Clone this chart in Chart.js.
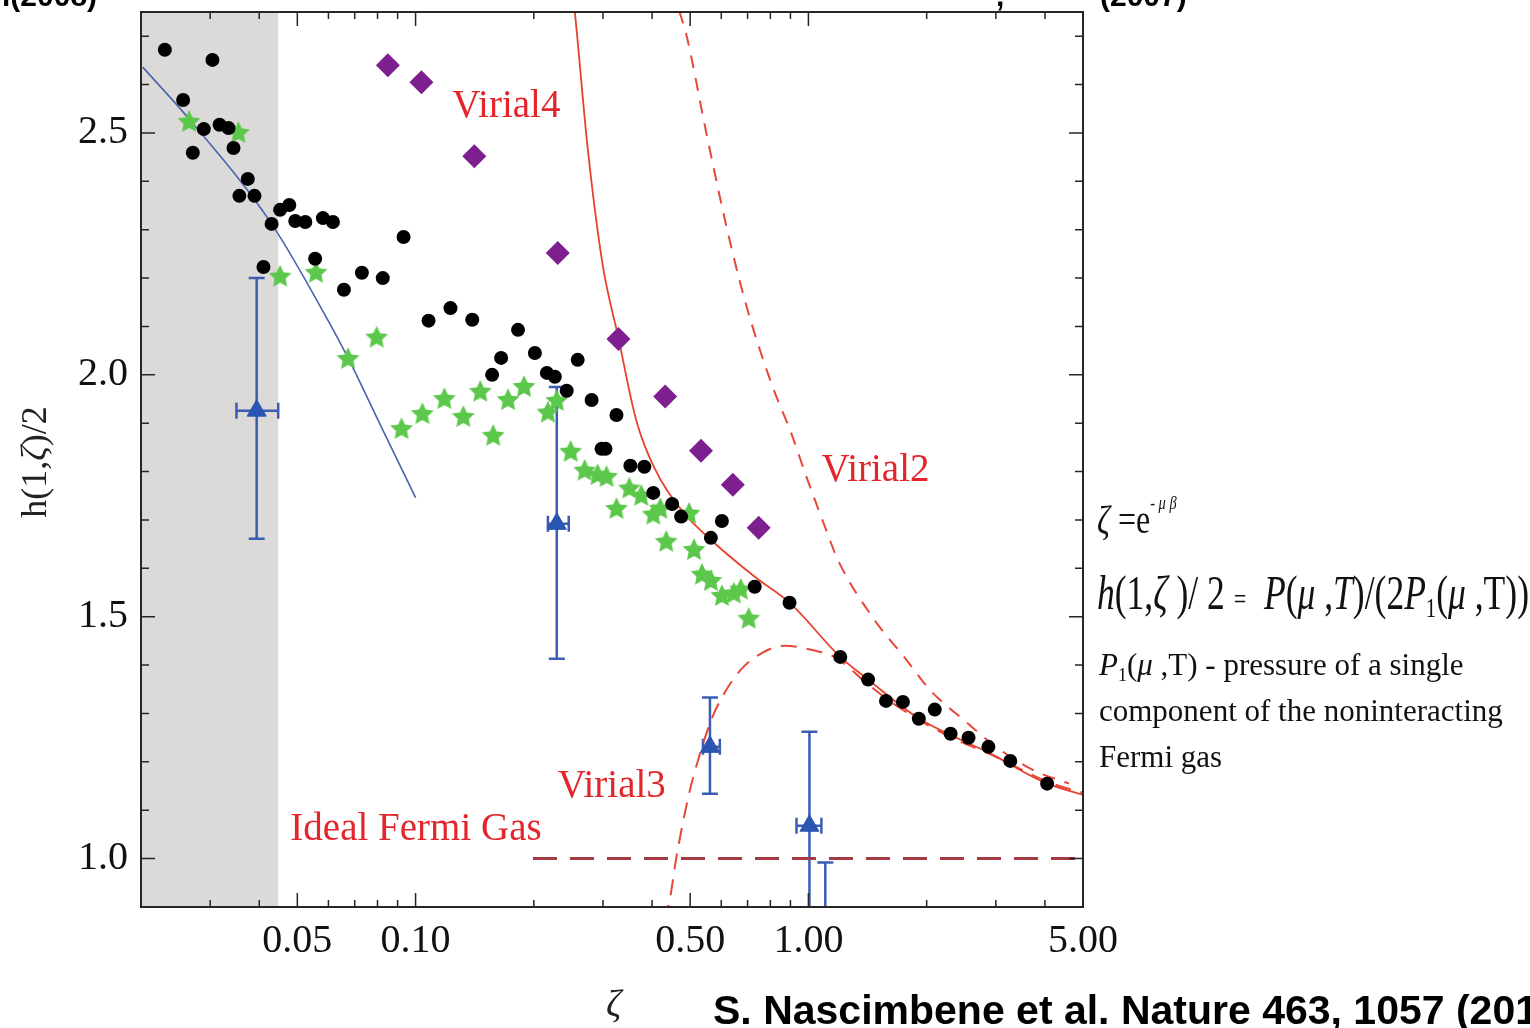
<!DOCTYPE html>
<html lang="en">
<head>
  <meta charset="UTF-8">
  <title>h(1,ζ)/2 versus ζ</title>
  <script src="https://cdn.jsdelivr.net/npm/chart.js"></script>
  <style>
    html, body { margin: 0; padding: 0; background: #fff; }
    #wrap { width: 1530px; height: 1028px; }
  </style>
</head>
<body>
  <div id="wrap"><canvas id="chart" width="1530" height="1028"></canvas></div>
  <script>
    // experimental points (black dots)
    const dotX = [0.0230, 0.0304, 0.0256, 0.0289, 0.0271, 0.0317, 0.0334, 0.0344, 0.0374, 0.0356, 0.0389, 0.0430, 0.0452, 0.0477, 0.0494, 0.0524, 0.0581, 0.0616, 0.0932, 0.0410, 0.0555, 0.0730, 0.0825, 0.0657, 0.1227, 0.1079, 0.1394, 0.1823, 0.1651, 0.1566, 0.2012, 0.2159, 0.2262, 0.2425, 0.2586, 0.2806, 0.3246, 0.2974, 0.3044, 0.3522, 0.3822, 0.4028, 0.4499, 0.4741, 0.6022, 0.5646, 0.7298, 0.8952, 1.205, 1.419, 1.576, 1.740, 1.910, 2.097, 2.301, 2.556, 2.872, 3.265, 4.052];
    const dotY = [2.672, 2.651, 2.568, 2.508, 2.459, 2.517, 2.510, 2.469, 2.405, 2.370, 2.370, 2.312, 2.341, 2.351, 2.318, 2.316, 2.324, 2.316, 2.285, 2.223, 2.240, 2.211, 2.200, 2.176, 2.138, 2.112, 2.114, 2.093, 2.035, 2.000, 2.045, 2.004, 1.996, 1.967, 2.031, 1.948, 1.917, 1.847, 1.847, 1.812, 1.810, 1.756, 1.733, 1.707, 1.698, 1.663, 1.562, 1.529, 1.417, 1.370, 1.326, 1.324, 1.289, 1.308, 1.258, 1.250, 1.231, 1.202, 1.155];

    // green stars
    const starX = [0.0265, 0.0354, 0.0452, 0.0558, 0.0673, 0.0796, 0.0921, 0.1041, 0.1184, 0.1323, 0.1461, 0.1576, 0.1720, 0.1888, 0.2172, 0.2288, 0.2482, 0.2694, 0.2906, 0.3062, 0.3246, 0.3501, 0.3755, 0.4028, 0.4196, 0.4968, 0.4345, 0.5114, 0.5358, 0.5646, 0.6022, 0.6457, 0.6726, 0.7048];
    const starY = [2.525, 2.502, 2.205, 2.213, 2.035, 2.079, 1.890, 1.921, 1.952, 1.915, 1.967, 1.876, 1.950, 1.977, 1.924, 1.948, 1.843, 1.804, 1.795, 1.791, 1.725, 1.767, 1.752, 1.713, 1.725, 1.715, 1.657, 1.640, 1.589, 1.576, 1.545, 1.550, 1.558, 1.498];

    // purple diamonds
    const diamondX = [0.0850, 0.1035, 0.1411, 0.2301, 0.3284, 0.4319, 0.5328, 0.6421, 0.7471];
    const diamondY = [2.640, 2.605, 2.452, 2.252, 2.074, 1.955, 1.843, 1.773, 1.684];

    // blue triangles with error bars
    const triX = [0.0394, 0.2288, 0.5615, 1.006, 1.104];
    const triY = [1.926, 1.692, 1.231, 1.068, 0.80];
    const triYLow = [1.661, 1.413, 1.134, 0.86, 0.62];
    const triYHigh = [2.200, 1.975, 1.333, 1.262, 0.992];
    const triXLow = [0.0350, 0.2172, 0.539, 0.9325, 1.104];
    const triXHigh = [0.0447, 0.2454, 0.595, 1.079, 1.104];

    // curves
    const fitX = [0.0202, 0.0265, 0.0430, 0.0599, 0.0673, 0.0815, 0.100];
    const fitY = [2.636, 2.529, 2.312, 2.112, 2.035, 1.895, 1.746];
    const redX = [0.2542, 0.2571, 0.2742, 0.2992, 0.3284, 0.3648, 0.4051, 0.4770, 0.5680, 0.7342, 0.8952, 1.205, 1.419, 1.899, 2.906, 4.052, 5.0];
    const redY = [2.752, 2.711, 2.469, 2.229, 2.076, 1.905, 1.808, 1.719, 1.657, 1.581, 1.529, 1.417, 1.370, 1.291, 1.217, 1.155, 1.132];
    const virial2X = [0.4688, 0.4883, 0.5485, 0.6164, 0.6928, 0.8060, 0.9056, 0.9827, 1.104, 1.191, 1.477, 1.760, 2.048, 2.498, 3.027, 3.755, 4.606];
    const virial2Y = [2.752, 2.705, 2.504, 2.312, 2.147, 1.981, 1.878, 1.795, 1.684, 1.616, 1.492, 1.415, 1.347, 1.285, 1.229, 1.182, 1.155];
    const virial3X = [0.4319, 0.4446, 0.4606, 0.4968, 0.5297, 0.5646, 0.6022, 0.6688, 0.7647, 0.8692, 1.0356, 1.177, 1.419, 1.690, 2.262, 3.027, 4.052, 5.0];
    const virial3Y = [0.872, 0.919, 1.000, 1.134, 1.217, 1.285, 1.333, 1.388, 1.426, 1.440, 1.430, 1.415, 1.360, 1.314, 1.254, 1.209, 1.159, 1.136];
    const idealX = [0.199, 5.0];
    const idealY = [1.0, 1.0];

    // shaded region and ticks
    const shadeRange = [0.02, 0.0447];
    const xLabelTicks = [0.05, 0.1, 0.5, 1, 5];
    const xMinorTicks = [0.03, 0.04, 0.06, 0.07, 0.08, 0.09, 0.2, 0.3, 0.4, 0.6, 0.7, 0.8, 0.9, 2, 3, 4];
    const yLabelTicks = [1.0, 1.5, 2.0, 2.5];
    const yMinorTicks = [1.1, 1.2, 1.3, 1.4, 1.6, 1.7, 1.8, 1.9, 2.1, 2.2, 2.3, 2.4, 2.6, 2.7];

    const curveLabels = [
      { text: 'Virial4', x: 0.124, y: 2.554 },
      { text: 'Virial2', x: 1.079, y: 1.802 },
      { text: 'Virial3', x: 0.230, y: 1.149 },
      { text: 'Ideal Fermi Gas', x: 0.048, y: 1.060 }
    ];

    const zip = (xs, ys) => xs.map((v, i) => ({ x: v, y: ys[i] }));
    const SERIF = '"Liberation Serif", "DejaVu Serif", serif';

    function makeStar(size, color) {
      const c = document.createElement('canvas');
      c.width = c.height = size;
      const g = c.getContext('2d');
      const R = size / 2, r = R * 0.48, cx = size / 2, cy = size / 2 + size * 0.05;
      g.beginPath();
      for (let i = 0; i < 10; i++) {
        const a = -Math.PI / 2 + i * Math.PI / 5;
        const rr = i % 2 ? r : R;
        g.lineTo(cx + rr * Math.cos(a), cy + rr * Math.sin(a));
      }
      g.closePath();
      g.fillStyle = color;
      g.fill();
      return c;
    }

    function drawRuns(ctx, runs, x, y) {
      runs.forEach(r => {
        ctx.font = r.font;
        ctx.fillText(r.t, x, y + (r.dy || 0));
        x += ctx.measureText(r.t).width;
      });
      return x;
    }

    const backdrop = {
      id: 'backdrop',
      beforeDatasetsDraw(chart) {
        const { ctx, chartArea: a, scales: { x, y } } = chart;
        ctx.save();
        ctx.beginPath();
        ctx.rect(a.left, a.top, a.right - a.left, a.bottom - a.top);
        ctx.clip();
        const x0 = x.getPixelForValue(shadeRange[0]);
        const x1 = x.getPixelForValue(shadeRange[1]);
        ctx.fillStyle = '#dcdad9';
        ctx.fillRect(x0, a.top, x1 - x0, a.bottom - a.top);

        // error bars
        ctx.strokeStyle = '#3a5cb2';
        ctx.lineWidth = 2.5;
        triX.forEach((v, i) => {
          const px = x.getPixelForValue(v);
          const py = y.getPixelForValue(triY[i]);
          const lo = y.getPixelForValue(triYLow[i]);
          const hi = y.getPixelForValue(triYHigh[i]);
          const l = x.getPixelForValue(triXLow[i]);
          const r = x.getPixelForValue(triXHigh[i]);
          ctx.beginPath();
          ctx.moveTo(px, lo); ctx.lineTo(px, hi);
          ctx.moveTo(px - 8, hi); ctx.lineTo(px + 8, hi);
          ctx.moveTo(px - 8, lo); ctx.lineTo(px + 8, lo);
          if (r - l > 1) {
            ctx.moveTo(l, py); ctx.lineTo(r, py);
            ctx.moveTo(l, py - 8); ctx.lineTo(l, py + 8);
            ctx.moveTo(r, py - 8); ctx.lineTo(r, py + 8);
          }
          ctx.stroke();
        });
        ctx.restore();
      }
    };

    const decorations = {
      id: 'decorations',
      afterDraw(chart) {
        const { ctx, chartArea: a, scales: { x, y } } = chart;
        ctx.save();

        // frame and inward ticks
        ctx.strokeStyle = '#262626';
        ctx.lineWidth = 2;
        ctx.strokeRect(a.left, a.top, a.right - a.left, a.bottom - a.top);
        ctx.lineWidth = 1.5;
        ctx.beginPath();
        const xt = (v, len) => {
          const p = x.getPixelForValue(v);
          ctx.moveTo(p, a.bottom); ctx.lineTo(p, a.bottom - len);
          ctx.moveTo(p, a.top); ctx.lineTo(p, a.top + len);
        };
        const yt = (v, len) => {
          const p = y.getPixelForValue(v);
          ctx.moveTo(a.left, p); ctx.lineTo(a.left + len, p);
          ctx.moveTo(a.right, p); ctx.lineTo(a.right - len, p);
        };
        xLabelTicks.forEach(v => xt(v, 14));
        xMinorTicks.forEach(v => xt(v, 7));
        yLabelTicks.forEach(v => yt(v, 14));
        yMinorTicks.forEach(v => yt(v, 8));
        ctx.stroke();

        // curve labels
        ctx.fillStyle = '#e3262b';
        ctx.font = '39px ' + SERIF;
        ctx.textAlign = 'left';
        ctx.textBaseline = 'middle';
        curveLabels.forEach(l => ctx.fillText(l.text, x.getPixelForValue(l.x), y.getPixelForValue(l.y)));

        // axis titles
        ctx.fillStyle = '#222';
        ctx.textBaseline = 'alphabetic';
        ctx.save();
        ctx.translate(46, 462);
        ctx.rotate(-Math.PI / 2);
        const yTitle = [
          { t: 'h(1,', font: '36px ' + SERIF },
          { t: 'ζ', font: 'italic 36px ' + SERIF },
          { t: ')/2', font: '36px ' + SERIF }
        ];
        let w = 0;
        yTitle.forEach(r => { ctx.font = r.font; w += ctx.measureText(r.t).width; });
        drawRuns(ctx, yTitle, -w / 2, 0);
        ctx.restore();

        ctx.font = 'italic 38px ' + SERIF;
        ctx.fillText('ζ', 606, 1016);

        // side notes
        ctx.fillStyle = '#111';
        ctx.save();
        ctx.translate(1097, 533);
        ctx.scale(0.8, 1);
        drawRuns(ctx, [
          { t: 'ζ', font: 'italic 40px ' + SERIF },
          { t: ' =e', font: '40px ' + SERIF },
          { t: '- ', font: '18px ' + SERIF, dy: -24 },
          { t: 'μ β', font: 'italic 18px ' + SERIF, dy: -24 }
        ], 0, 0);
        ctx.restore();

        ctx.save();
        ctx.translate(1097, 609);
        ctx.scale(0.74, 1);
        const F = '48px ' + SERIF, FI = 'italic 48px ' + SERIF;
        drawRuns(ctx, [
          { t: 'h', font: FI }, { t: '(1,', font: F }, { t: 'ζ', font: FI },
          { t: ' )/ 2 ', font: F }, { t: '=', font: '30px ' + SERIF }, { t: '  ', font: F },
          { t: 'P', font: FI }, { t: '(', font: F }, { t: 'μ', font: FI }, { t: ' ,', font: F },
          { t: 'T', font: FI }, { t: ')/(2', font: F }, { t: 'P', font: FI },
          { t: '1', font: '28px ' + SERIF, dy: 8 }, { t: '(', font: F }, { t: 'μ', font: FI },
          { t: ' ,T))', font: F }
        ], 0, 0);
        ctx.restore();

        const S = '31px ' + SERIF;
        drawRuns(ctx, [
          { t: 'P', font: 'italic 31px ' + SERIF },
          { t: '1', font: '18px ' + SERIF, dy: 6 },
          { t: '(', font: S }, { t: 'μ', font: 'italic 31px ' + SERIF },
          { t: ' ,T) - pressure of a single', font: S }
        ], 1099, 675);
        ctx.font = S;
        ctx.fillText('component of the noninteracting', 1099, 721);
        ctx.fillText('Fermi gas', 1099, 767);

        // citation and cut-off header text
        ctx.fillStyle = '#000';
        ctx.font = 'bold 41px "Liberation Sans", Arial, sans-serif';
        ctx.fillText('S. Nascimbene et al. Nature 463, 1057 (2010)', 713, 1024);
        ctx.font = 'bold 30px "Liberation Sans", Arial, sans-serif';
        ctx.fillText('l(2008)', 2, 6);
        ctx.fillText(',', 996, 6);
        ctx.fillText('(2007)', 1100, 6);
        ctx.restore();
      }
    };

    const ctx = document.getElementById('chart').getContext('2d');
    new Chart(ctx, {
      type: 'scatter',
      data: {
        datasets: [
          {
            label: 'triangles', data: zip(triX, triY), order: 0,
            pointStyle: 'triangle', pointRadius: 11, backgroundColor: '#2a55b2', borderColor: '#2a55b2', borderWidth: 1
          },
          {
            label: 'dots', data: zip(dotX, dotY), order: 1,
            pointStyle: 'circle', pointRadius: 7, backgroundColor: '#000', borderColor: '#000', borderWidth: 0
          },
          {
            label: 'stars', data: zip(starX, starY), order: 2,
            pointStyle: makeStar(24, '#5cc84b'), pointRadius: 11
          },
          {
            label: 'diamonds', data: zip(diamondX, diamondY), order: 2,
            pointStyle: 'rectRot', pointRadius: 12, backgroundColor: '#7d1f8e', borderColor: '#7d1f8e', borderWidth: 0
          },
          {
            label: 'fit', data: zip(fitX, fitY), order: 5, showLine: true, pointRadius: 0,
            borderColor: '#4a62b0', borderWidth: 1.6, cubicInterpolationMode: 'monotone'
          },
          {
            label: 'Virial4', data: zip(redX, redY), order: 5, showLine: true, pointRadius: 0,
            borderColor: '#e8412f', borderWidth: 1.8, cubicInterpolationMode: 'monotone'
          },
          {
            label: 'Virial2', data: zip(virial2X, virial2Y), order: 5, showLine: true, pointRadius: 0,
            borderColor: '#e8473a', borderWidth: 2, borderDash: [13, 10], cubicInterpolationMode: 'monotone'
          },
          {
            label: 'Virial3', data: zip(virial3X, virial3Y), order: 5, showLine: true, pointRadius: 0,
            borderColor: '#e8473a', borderWidth: 2, borderDash: [16, 10], cubicInterpolationMode: 'monotone'
          },
          {
            label: 'Ideal Fermi Gas', data: zip(idealX, idealY), order: 5, showLine: true, pointRadius: 0,
            borderColor: '#a63a44', borderWidth: 3, borderDash: [24, 13]
          }
        ]
      },
      options: {
        responsive: false,
        animation: false,
        devicePixelRatio: 1,
        layout: { padding: { left: 0, right: 447, top: 10, bottom: 0 } },
        plugins: { legend: { display: false }, tooltip: { enabled: false } },
        scales: {
          x: {
            type: 'logarithmic', min: 0.02, max: 5,
            grid: { display: false, drawTicks: false }, border: { display: false },
            afterBuildTicks: s => { s.ticks = xLabelTicks.map(v => ({ value: v })); },
            afterFit: s => { s.height = 121; s.paddingLeft = 0; s.paddingRight = 0; },
            ticks: {
              autoSkip: false, maxRotation: 0, padding: 10, color: '#111',
              font: { family: SERIF, size: 40 },
              callback: v => Number(v).toFixed(2)
            }
          },
          y: {
            type: 'linear', min: 0.9, max: 2.75,
            grid: { display: false, drawTicks: false }, border: { display: false },
            afterBuildTicks: s => { s.ticks = yLabelTicks.map(v => ({ value: v })); },
            afterFit: s => { s.width = 141; s.paddingTop = 0; s.paddingBottom = 0; },
            ticks: {
              padding: 13, color: '#111',
              font: { family: SERIF, size: 40 },
              callback: v => Number(v).toFixed(1)
            }
          }
        }
      },
      plugins: [backdrop, decorations]
    });
  </script>
</body>
</html>
